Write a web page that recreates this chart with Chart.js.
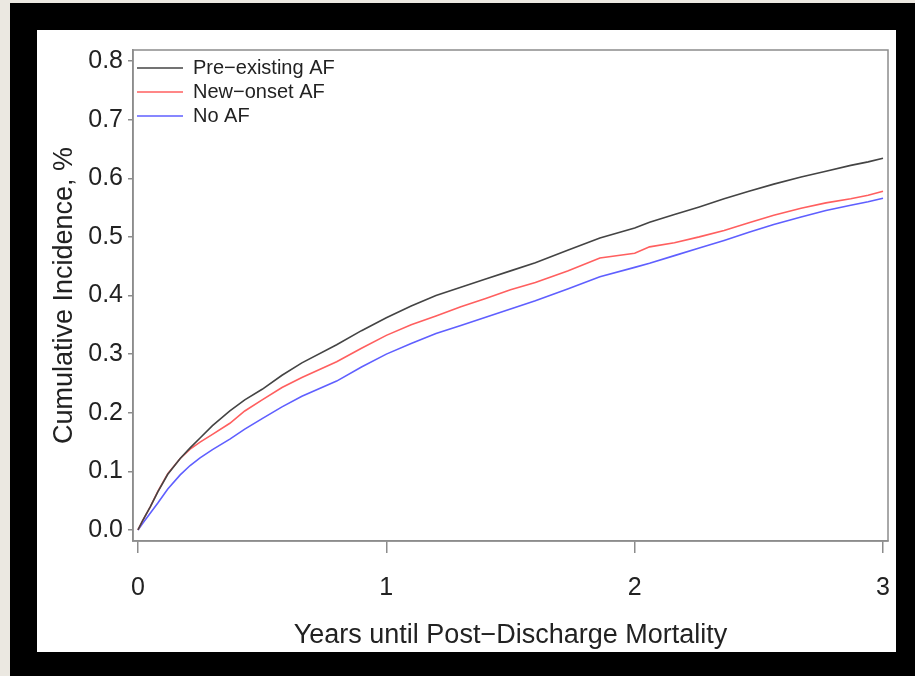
<!DOCTYPE html>
<html><head><meta charset="utf-8">
<script src="https://cdn.jsdelivr.net/npm/chart.js@4.4.1/dist/chart.umd.min.js"></script>
<style>
html,body{margin:0;padding:0;width:915px;height:676px;overflow:hidden;background:#ebe8e1;}
#frame{position:absolute;left:10px;top:3px;width:905px;height:673px;background:#000;}
#panel{position:absolute;left:37px;top:30px;width:859px;height:622px;background:#fff;}
canvas{display:block;}
</style></head><body>
<div id="frame"></div>
<div id="panel"><canvas id="c" width="859" height="622"></canvas></div>
<script>
const years       = [0, 0.02, 0.05, 0.08, 0.12, 0.17, 0.21, 0.25, 0.30, 0.37, 0.43, 0.50, 0.58, 0.66, 0.80, 0.90, 1.00, 1.10, 1.20, 1.30, 1.40, 1.50, 1.60, 1.73, 1.86, 2.00, 2.06, 2.16, 2.26, 2.36, 2.46, 2.56, 2.67, 2.77, 2.87, 2.94, 3.00];
const preExisting = [0, 0.017, 0.040, 0.065, 0.095, 0.122, 0.140, 0.157, 0.178, 0.203, 0.222, 0.240, 0.264, 0.285, 0.316, 0.340, 0.362, 0.382, 0.400, 0.414, 0.428, 0.442, 0.456, 0.477, 0.498, 0.515, 0.525, 0.538, 0.551, 0.565, 0.578, 0.590, 0.602, 0.612, 0.622, 0.628, 0.634];
const newOnset    = [0, 0.017, 0.040, 0.066, 0.096, 0.122, 0.138, 0.150, 0.163, 0.182, 0.203, 0.222, 0.243, 0.260, 0.287, 0.310, 0.332, 0.350, 0.365, 0.381, 0.395, 0.410, 0.422, 0.442, 0.464, 0.472, 0.483, 0.490, 0.500, 0.511, 0.524, 0.537, 0.549, 0.558, 0.565, 0.571, 0.578];
const noAF        = [0, 0.012, 0.029, 0.046, 0.070, 0.094, 0.110, 0.123, 0.137, 0.155, 0.172, 0.190, 0.210, 0.228, 0.254, 0.278, 0.300, 0.318, 0.335, 0.349, 0.363, 0.377, 0.391, 0.411, 0.432, 0.448, 0.455, 0.468, 0.481, 0.494, 0.508, 0.521, 0.534, 0.545, 0.554, 0.560, 0.566];
const seriesNames = ['Pre\u2212existing AF', 'New\u2212onset AF', 'No AF'];
const xTicks = [0, 1, 2, 3];
const yTicks = [0, 0.1, 0.2, 0.3, 0.4, 0.5, 0.6, 0.7, 0.8];
const xTitle = 'Years until Post\u2212Discharge Mortality';
const yTitle = 'Cumulative Incidence, %';

const FONT = "'Liberation Sans', Arial, sans-serif";
const TXT = '#222222';
const AXC = '#8c8c8c';

const toPts = vals => years.map((t, i) => ({x: t, y: vals[i]}));

const boxPlugin = {
  id: 'box',
  afterDatasetsDraw(chart) {
    const {ctx, chartArea: a} = chart;
    ctx.save();
    ctx.strokeStyle = AXC;
    ctx.lineWidth = 1.5;
    ctx.strokeRect(a.left, a.top, a.right - a.left, a.bottom - a.top);
    ctx.restore();
  }
};

new Chart(document.getElementById('c'), {
  type: 'line',
  data: {
    datasets: [
      {label: seriesNames[0], data: toPts(preExisting), borderColor: '#444444', borderWidth: 1.6},
      {label: seriesNames[1], data: toPts(newOnset), borderColor: '#ff5f5f', borderWidth: 1.6},
      {label: seriesNames[2], data: toPts(noAF), borderColor: '#5f5fff', borderWidth: 1.6}
    ]
  },
  options: {
    responsive: false,
    animation: false,
    devicePixelRatio: 1,
    elements: {point: {radius: 0}, line: {tension: 0, fill: false}},
    layout: {padding: {top: 20, right: 8, left: 0, bottom: 0}},
    plugins: {
      tooltip: {enabled: false},
      legend: {
        position: 'chartArea',
        align: 'start',
        title: {display: true, text: ' ', font: {family: FONT, size: 20}, padding: 0},
        labels: {
          usePointStyle: true,
          pointStyle: 'line',
          pointStyleWidth: 46,
          boxHeight: 20,
          padding: 4,
          color: TXT,
          font: {family: FONT, size: 20}
        }
      }
    },
    scales: {
      x: {
        type: 'linear',
        min: -0.02, max: 3.02,
        afterBuildTicks: s => { s.ticks = xTicks.map(v => ({value: v})); },
        afterFit: s => { s.height = 111; s.paddingLeft = 0; s.paddingRight = 0; },
        ticks: {color: TXT, font: {family: FONT, size: 25}, padding: 20, maxRotation: 0, autoSkip: false,
                callback: v => String(v)},
        grid: {display: true, drawOnChartArea: false, drawTicks: true, tickLength: 12, color: AXC, lineWidth: 1.5},
        border: {display: true, color: AXC, width: 1.5},
        title: {display: true, text: xTitle, color: TXT, font: {family: FONT, size: 27}, padding: {top: 0, bottom: 0}}
      },
      y: {
        type: 'linear',
        min: -0.0188, max: 0.8188,
        afterBuildTicks: s => { s.ticks = yTicks.map(v => ({value: v})); },
        afterFit: s => { s.width = 96; s.paddingTop = 0; s.paddingBottom = 0; },
        ticks: {color: TXT, font: {family: FONT, size: 25}, padding: 5, autoSkip: false,
                callback: v => Number(v).toFixed(1)},
        grid: {display: true, drawOnChartArea: false, drawTicks: true, tickLength: 5, color: AXC, lineWidth: 1.5},
        border: {display: true, color: AXC, width: 1.5},
        title: {display: true, text: yTitle, color: TXT, font: {family: FONT, size: 27}, padding: {top: 11, bottom: 0}}
      }
    }
  },
  plugins: [boxPlugin]
});
</script>
</body></html>
